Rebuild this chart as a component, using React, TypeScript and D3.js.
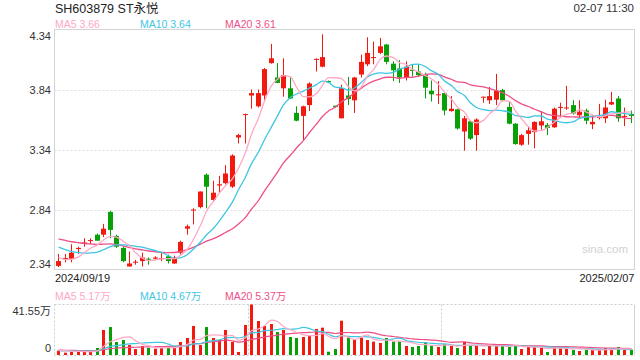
import React from "react";
import * as d3 from "d3";

const title = "SH603879 ST永悦";
const timeLabel = "02-07 11:30";
const startDate = "2024/09/19";
const endDate = "2025/02/07";
const priceTicks = [4.34, 3.84, 3.34, 2.84, 2.34];
const gridTicks = [3.84, 3.34, 2.84];
const volMax = 41.55;
const volTickLabels = ["41.55万", "0"];
const priceLegend = ["MA5 3.66", "MA10 3.64", "MA20 3.61"];
const volLegend = ["MA5 5.17万", "MA10 4.67万", "MA20 5.37万"];
const watermark = "sina.com";

// closes / volumes of the sessions just before the window (for moving averages)
const priorCloses = [2.7, 2.69, 2.68, 2.7, 2.66, 2.65, 2.64, 2.63, 2.64, 2.65, 2.64, 2.63, 2.62, 2.6, 2.57, 2.52, 2.47, 2.42, 2.38];
const priorVolumes = [5.5, 5.0, 4.5, 5.2, 4.8, 4.4, 4.6, 4.2, 4.0, 4.5, 3.0, 3.4, 3.1, 2.9, 3.5, 3.3, 4.2, 3.8, 4.1];

const opens = [
  2.37, 2.425, 2.43, 2.51, 2.56, 2.58, 2.63, 2.63, 2.82, 2.62,
  2.52, 2.365, 2.4, 2.41, 2.43, 2.43, 2.43, 2.45, 2.39, 2.48,
  2.68, 2.835, 2.86, 3.13, 2.92, 3.04, 3.06, 3.03, 3.44, 3.63,
  3.79, 3.7, 3.79, 4.06, 3.94, 3.85, 3.85, 3.645, 3.62, 3.71,
  4.09, 4.03, 3.91, 3.705, 3.6, 3.79, 3.75, 3.965, 4.05, 4.105,
  4.145, 4.215, 4.055, 4.015, 3.94, 4.005, 3.99, 3.965, 3.83, 3.795,
  3.81, 3.66, 3.675, 3.49, 3.575, 3.46, 3.775, 3.75, 3.755, 3.835,
  3.695, 3.555, 3.38, 3.47, 3.485, 3.54, 3.545, 3.525, 3.69, 3.685,
  3.71, 3.625, 3.665, 3.55, 3.605, 3.6, 3.715, 3.765, 3.615, 3.635,
];
const closes = [
  2.41, 2.435, 2.48, 2.52, 2.565, 2.585, 2.58, 2.68, 2.67, 2.53,
  2.41, 2.39, 2.405, 2.44, 2.425, 2.44, 2.435, 2.41, 2.44, 2.57,
  2.7, 2.84, 2.99, 3.03, 2.98, 3.05, 3.14, 3.29, 3.46, 3.635,
  3.81, 3.81, 4.01, 4.1, 3.895, 3.96, 3.765, 3.58, 3.7, 3.89,
  4.095, 4.11, 3.9, 3.695, 3.85, 3.76, 3.94, 4.07, 4.145, 4.11,
  4.2, 4.07, 4.0, 3.94, 4.03, 3.995, 3.96, 3.855, 3.8, 3.8,
  3.665, 3.68, 3.515, 3.6, 3.43, 3.59, 3.78, 3.785, 3.83, 3.75,
  3.555, 3.385, 3.46, 3.5, 3.57, 3.575, 3.52, 3.68, 3.695, 3.69,
  3.64, 3.655, 3.58, 3.57, 3.61, 3.69, 3.735, 3.6, 3.62, 3.62,
];
const highs = [
  2.47, 2.47, 2.55, 2.53, 2.6, 2.6, 2.64, 2.72, 2.83, 2.63,
  2.53, 2.49, 2.42, 2.48, 2.44, 2.45, 2.48, 2.465, 2.455, 2.58,
  2.715, 2.85, 2.99, 3.14, 3.08, 3.12, 3.21, 3.3, 3.47, 3.64,
  3.84, 3.84, 4.02, 4.22, 4.06, 4.1, 3.94, 3.7, 3.705, 3.9,
  4.1, 4.3, 3.915, 3.705, 3.88, 3.945, 3.945, 4.13, 4.275, 4.24,
  4.27, 4.22, 4.075, 4.085, 4.075, 4.05, 4.05, 3.98, 3.915, 3.91,
  3.815, 3.785, 3.68, 3.62, 3.58, 3.6, 3.78, 3.86, 3.97, 3.845,
  3.735, 3.56, 3.47, 3.535, 3.575, 3.66, 3.56, 3.69, 3.73, 3.87,
  3.75, 3.75, 3.68, 3.63, 3.72, 3.755, 3.82, 3.785, 3.69, 3.665,
];
const lows = [
  2.36, 2.4, 2.4, 2.47, 2.53, 2.55, 2.58, 2.61, 2.6, 2.52,
  2.4, 2.365, 2.38, 2.365, 2.38, 2.42, 2.41, 2.39, 2.387, 2.465,
  2.63, 2.715, 2.85, 2.85, 2.91, 2.98, 3.05, 3.02, 3.39, 3.39,
  3.68, 3.69, 3.75, 4.055, 3.895, 3.78, 3.76, 3.575, 3.415, 3.66,
  3.99, 4.025, 3.9, 3.69, 3.6, 3.71, 3.645, 3.94, 4.035, 4.05,
  4.135, 4.05, 3.91, 3.895, 3.915, 3.95, 3.945, 3.765, 3.74, 3.72,
  3.625, 3.655, 3.505, 3.33, 3.42, 3.33, 3.73, 3.72, 3.71, 3.74,
  3.55, 3.38, 3.37, 3.38, 3.35, 3.505, 3.46, 3.52, 3.605, 3.67,
  3.63, 3.6, 3.55, 3.51, 3.59, 3.56, 3.71, 3.57, 3.535, 3.56,
];
// volume in 万 (10k)
const volumes = [
  3.6, 1.9, 2.7, 2.7, 3.0, 3.0, 5.8, 20.6, 23.0, 10.7,
  12.3, 8.2, 4.9, 7.4, 5.8, 5.2, 5.8, 5.8, 7.4, 10.7,
  14.0, 23.9, 8.2, 23.0, 14.0, 12.3, 20.6, 10.7, 2.5, 24.7,
  41.55, 28.0, 23.9, 25.5, 18.9, 20.6, 14.8, 14.0, 14.8, 15.6,
  21.4, 22.5, 2.7, 4.9, 28.2, 14.5, 13.2, 14.3, 12.3, 11.0,
  9.9, 14.0, 11.0, 11.2, 7.4, 6.6, 7.4, 10.4, 7.4, 6.6,
  9.0, 7.4, 5.8, 10.7, 8.0, 8.0, 4.9, 8.2, 8.2, 8.0,
  6.6, 8.0, 4.9, 6.6, 6.6, 6.0, 2.5, 6.6, 6.6, 5.8,
  4.1, 3.3, 4.1, 4.1, 4.4, 5.8, 4.1, 6.6, 4.1, 4.4,
];

const UP = "#f2190e";
const DOWN = "#07a007";
const C5 = "#ffa8c4";
const C10 = "#3ec6e3";
const C20 = "#ee4f84";
const FONT = "'Liberation Sans', Arial, 'Noto Sans CJK SC', sans-serif";

function movingAvg(series: number[], prior: number[], n: number): number[] {
  const all = prior.concat(series);
  const off = prior.length;
  return series.map((_, i) => {
    const end = off + i;
    const start = Math.max(0, end - n + 1);
    const slice = all.slice(start, end + 1);
    return d3.mean(slice) as number;
  });
}

export default function App() {
  const n = closes.length;
  const left = 54.5;
  const right = 634.5;
  const top = 29.5;
  const bottom = 269.5;
  const vTop = 304.5;
  const vBottom = 355.5;

  const x = d3.scaleBand<number>().domain(d3.range(n)).range([55, 634]).padding(0);
  const cx = (i: number) => Math.round((x(i) as number) + x.bandwidth() / 2) + 0.5;
  const y = d3.scaleLinear().domain([2.34, 4.34]).range([bottom, top]);
  const yv = d3.scaleLinear().domain([0, volMax]).range([355, vTop]);

  const ma5 = movingAvg(closes, priorCloses, 5);
  const ma10 = movingAvg(closes, priorCloses, 10);
  const ma20 = movingAvg(closes, priorCloses, 20);
  const vma5 = movingAvg(volumes, priorVolumes, 5);
  const vma10 = movingAvg(volumes, priorVolumes, 10);
  const vma20 = movingAvg(volumes, priorVolumes, 20);

  const line = d3.line<number>().x((_, i) => cx(i)).y((d) => y(d)).curve(d3.curveMonotoneX);
  const vline = d3.line<number>().x((_, i) => cx(i)).y((d) => yv(d)).curve(d3.curveMonotoneX);

  const bodyW = 5;
  const volW = 3;

  return (
    <svg
      width={640}
      height={360}
      style={{ position: "absolute", left: 0, top: 0, background: "#fff" }}
      fontFamily={FONT}
    >
      <rect x={0} y={0} width={640} height={360} fill="#fff" />
      {/* header */}
      <text x={55} y={12.5} fontSize={12.5} fill="#222">{title}</text>
      <text x={634} y={12} fontSize={11.5} fill="#333" textAnchor="end">{timeLabel}</text>
      {priceLegend.map((t, k) => (
        <text key={t} x={55 + k * 85} y={27.5} fontSize={10.5} fill={[C5, C10, C20][k]}>{t}</text>
      ))}

      {/* main frame & grid */}
      {gridTicks.map((t) => (
        <line key={t} x1={left} x2={right} y1={Math.round(y(t)) + 0.5} y2={Math.round(y(t)) + 0.5}
          stroke="#e0e0e0" strokeWidth={1.2} strokeDasharray="2,2" />
      ))}
      <rect x={left} y={top} width={right - left} height={bottom - top} fill="none" stroke="#d4d4d4" strokeWidth={1} />
      {priceTicks.map((t, k) => {
        let yy = y(t) + 4;
        if (k === 0) yy = 39.5;
        if (k === priceTicks.length - 1) yy = 267.5;
        return (
          <text key={t} x={51} y={yy} fontSize={11} fill="#333" textAnchor="end">{t.toFixed(2)}</text>
        );
      })}
      <text x={582} y={253} fontSize={11.5} fill="#d2d2d2">{watermark}</text>

      {/* candles */}
      {closes.map((c, i) => {
        const o = opens[i];
        const up = c >= o;
        const col = up ? UP : DOWN;
        const xc = cx(i);
        const yTop = y(Math.max(o, c));
        const yBot = y(Math.min(o, c));
        return (
          <g key={i}>
            <line x1={xc} x2={xc} y1={y(highs[i])} y2={y(lows[i])} stroke={col} strokeWidth={1} />
            <rect x={xc - bodyW / 2} y={yTop} width={bodyW} height={Math.max(1, yBot - yTop)} fill={col} />
          </g>
        );
      })}
      <path d={line(ma20) || ""} fill="none" stroke={C20} strokeWidth={1.3} />
      <path d={line(ma10) || ""} fill="none" stroke={C10} strokeWidth={1.3} />
      <path d={line(ma5) || ""} fill="none" stroke={C5} strokeWidth={1.3} />

      {/* dates */}
      <text x={55} y={281.5} fontSize={11} fill="#222">{startDate}</text>
      <text x={634.5} y={281.5} fontSize={11} fill="#222" textAnchor="end">{endDate}</text>

      {/* volume legend */}
      {volLegend.map((t, k) => (
        <text key={t} x={55 + k * 85} y={299.5} fontSize={10.5} fill={[C5, C10, C20][k]}>{t}</text>
      ))}
      <text x={51} y={315} fontSize={11} fill="#333" textAnchor="end">{volTickLabels[0]}</text>
      <text x={51} y={352} fontSize={11} fill="#333" textAnchor="end">{volTickLabels[1]}</text>

      {/* volume frame */}
      <line x1={left} x2={right} y1={vTop} y2={vTop} stroke="#ccc" strokeDasharray="2,2" />
      <line x1={left} x2={right} y1={vBottom} y2={vBottom} stroke="#ccc" strokeDasharray="2,2" />
      <line x1={left} x2={left} y1={vTop} y2={vBottom} stroke="#ccc" strokeDasharray="2,2" />
      {[1, 2].map((k) => {
        const xx = Math.round(55 + (579 * k) / 3) + 0.5;
        return <line key={k} x1={xx} x2={xx} y1={vTop} y2={vBottom} stroke="#ccc" strokeDasharray="2,2" />;
      })}
      <line x1={right} x2={right} y1={vTop} y2={vBottom} stroke="#d4d4d4" />

      {volumes.map((v, i) => {
        const col = closes[i] >= opens[i] ? UP : DOWN;
        const xc = cx(i);
        return <rect key={i} x={xc - volW / 2} y={yv(v)} width={volW} height={355 - yv(v)} fill={col} />;
      })}
      <path d={vline(vma20) || ""} fill="none" stroke={C20} strokeWidth={1.2} />
      <path d={vline(vma10) || ""} fill="none" stroke={C10} strokeWidth={1.2} />
      <path d={vline(vma5) || ""} fill="none" stroke={C5} strokeWidth={1.2} />
    </svg>
  );
}
